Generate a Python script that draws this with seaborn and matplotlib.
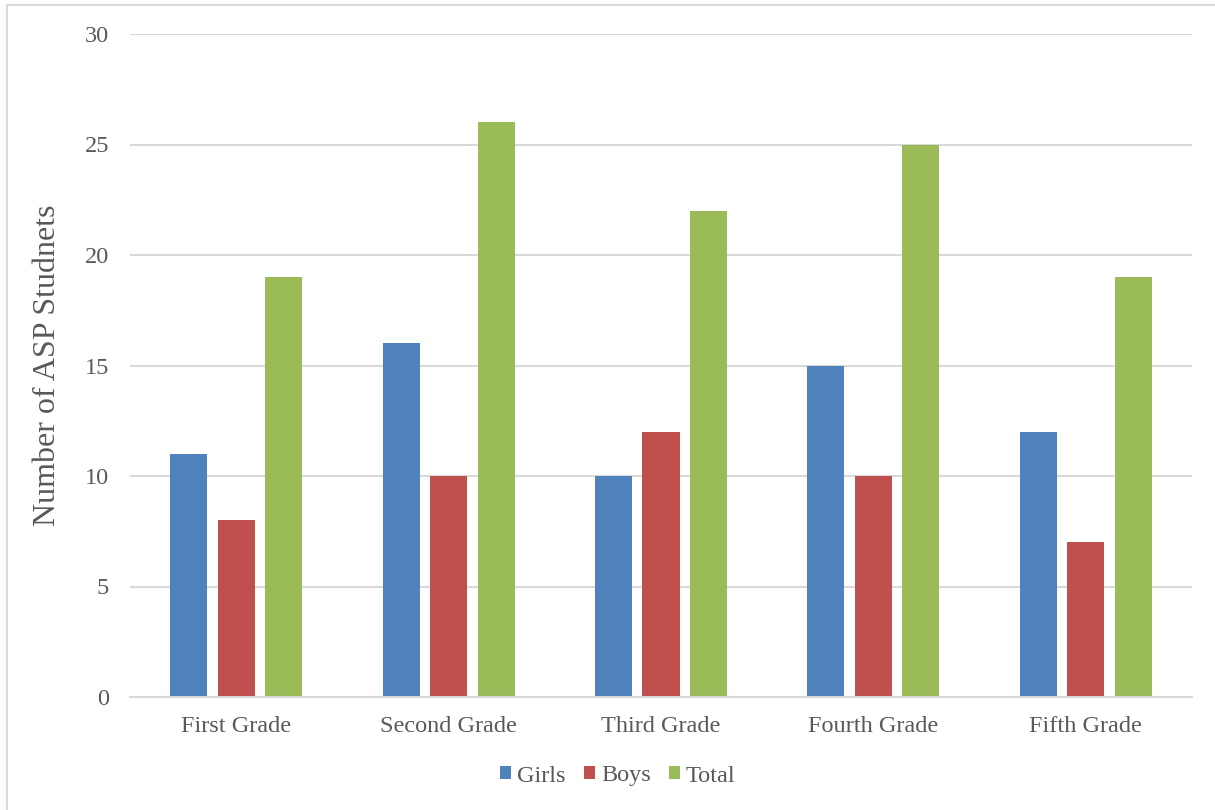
import matplotlib
matplotlib.use("Agg")
import matplotlib.pyplot as plt
import seaborn as sns
import pandas as pd
from matplotlib.patches import Rectangle, Patch

grades = ["First Grade", "Second Grade", "Third Grade", "Fourth Grade", "Fifth Grade"]
girls = [11, 16, 10, 15, 12]
boys = [8, 10, 12, 10, 7]
total = [19, 26, 22, 25, 19]
series = ["Girls", "Boys", "Total"]
colors = ["#4F81BD", "#C0504D", "#9BBB59"]
y_ticks = [0, 5, 10, 15, 20, 25, 30]

df = pd.DataFrame({
    "Grade": grades * 3,
    "Group": ["Girls"] * 5 + ["Boys"] * 5 + ["Total"] * 5,
    "Count": girls + boys + total,
})

sns.set_theme(style="white")
plt.rcParams["font.family"] = ["Liberation Serif", "DejaVu Serif"]
text_color = "#595959"
grid_color = "#D9D9D9"

fig = plt.figure(figsize=(12.15, 8.1), dpi=100)
ax = fig.add_axes([130 / 1215, 1 - 697 / 810, 1062 / 1215, (697 - 34) / 810])

sns.barplot(data=df, x="Grade", y="Count", hue="Group", order=grades,
            hue_order=series, palette=colors, width=0.67, gap=0.22,
            saturation=1, errorbar=None, ax=ax, legend=False,
            linewidth=0, edgecolor="none", zorder=3)

ax.set_xlim(-0.5, 4.5)
ax.set_ylim(0, 30)
ax.set_yticks(y_ticks)
ax.yaxis.grid(True, color=grid_color, linewidth=1.5, zorder=0)
ax.set_axisbelow(True)
for side in ["top", "right", "left"]:
    ax.spines[side].set_visible(False)
ax.spines["bottom"].set_color(grid_color)
ax.spines["bottom"].set_linewidth(1.5)
ax.spines["bottom"].set_zorder(4)
ax.tick_params(axis="both", length=0, labelsize=17.5, labelcolor=text_color)
ax.tick_params(axis="y", pad=15)
ax.tick_params(axis="x", pad=14)
ax.set_xlabel("")
ax.set_ylabel("Number of ASP Studnets", fontsize=23, color=text_color)
ax.yaxis.set_label_coords(-0.064, 0.5)

handles = [Patch(facecolor=c, edgecolor="none", label=s) for s, c in zip(series, colors)]
fig.legend(handles=handles, loc="center", bbox_to_anchor=(618 / 1215, 1 - 776 / 810),
           ncol=3, frameon=False, fontsize=17.5, handlelength=0.45, handleheight=0.45,
           handletextpad=0.25, columnspacing=0.75, labelcolor=text_color)

# Light outer frame of the chart area
fig.patches.append(Rectangle((7 / 1215, -0.05), 1.2, 1 - 5 / 810 + 0.05,
                             transform=fig.transFigure, fill=False,
                             edgecolor=grid_color, linewidth=1.5))

fig.savefig("out.png", dpi=100)
